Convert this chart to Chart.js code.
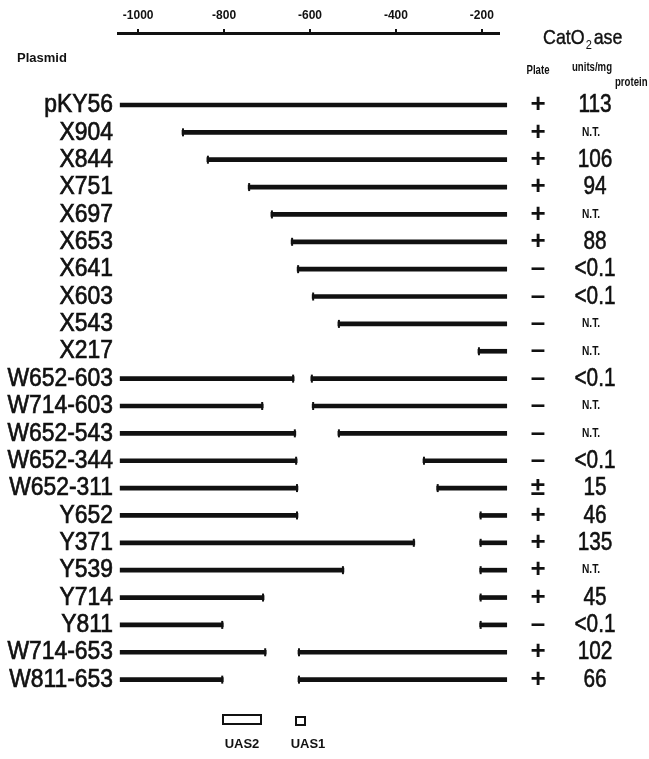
<!DOCTYPE html>
<html lang="en">
<head>
<meta charset="UTF-8">
<title>Deletion map</title>
<script src="https://cdn.jsdelivr.net/npm/chart.js@4.4.0/dist/chart.umd.min.js"></script>
<style>
    body { margin: 0; background: #fff; overflow: hidden; }
</style>
</head>
<body>
<canvas id="myChart" width="649" height="759"></canvas>
<script>
// rows of the map, top to bottom
const plasmids = ['pKY56', 'X904', 'X844', 'X751', 'X697', 'X653', 'X641', 'X603', 'X543', 'X217',
    'W652-603', 'W714-603', 'W652-543', 'W652-344', 'W652-311',
    'Y652', 'Y371', 'Y539', 'Y714', 'Y811', 'W714-653', 'W811-653'];

const tickValues = [-1000, -800, -600, -400, -200];
const mapStart = -1042;   // left end of the fragment
const mapEnd = -142;      // right end of the fragment

// upstream piece (kept 5' part) - null when absent
const upStart = [null, null, null, null, null, null, null, null, null, null,
    -1042, -1042, -1042, -1042, -1042, -1042, -1042, -1042, -1042, -1042, -1042, -1042];
const upEnd = [null, null, null, null, null, null, null, null, null, null,
    -637, -709, -633, -630, -628, -628, -356, -521, -707, -802, -702, -802];

// downstream piece
const downStart = [-1042, -898, -840, -744, -691, -644, -630, -595, -535, -209,
    -598, -595, -535, -337, -305, -205, -205, -205, -205, -205, -628, -628];
const downEnd = plasmids.map(() => mapEnd);

// CatO2ase columns
const plate = ['+', '+', '+', '+', '+', '+', '\u2013', '\u2013', '\u2013', '\u2013',
    '\u2013', '\u2013', '\u2013', '\u2013', '\u00b1', '+', '+', '+', '+', '\u2013', '+', '+'];
const units = ['113', 'N.T.', '106', '94', 'N.T.', '88', '<0.1', '<0.1', 'N.T.', 'N.T.',
    '<0.1', 'N.T.', 'N.T.', '<0.1', '15', '46', '135', 'N.T.', '45', '<0.1', '102', '66'];

const ink = '#111111';
const plain = "'Liberation Sans', Arial, sans-serif";

function pieces(starts, ends) {
    const out = [];
    for (let i = 0; i < plasmids.length; i++) {
        if (starts[i] === null) continue;
        out.push({ y: i, x: [starts[i], ends[i]] });
    }
    return out;
}

// squeezed text, the figure uses a condensed face
function narrowText(ctx, text, x, y, opts) {
    const sx = opts.sx || 0.86;
    ctx.save();
    ctx.font = (opts.bold ? 'bold ' : '') + opts.size + 'px ' + plain;
    ctx.textAlign = opts.align || 'left';
    ctx.textBaseline = 'middle';
    ctx.translate(x, y);
    ctx.scale(sx, 1);
    ctx.fillText(text, 0, 0);
    if (opts.heavy) {
        ctx.lineWidth = opts.heavy;
        ctx.strokeStyle = ink;
        ctx.strokeText(text, 0, 0);
    }
    const w = ctx.measureText(text).width * sx;
    ctx.restore();
    return w;
}

// small vertical stops at the cut ends
const capsPlugin = {
    id: 'caps',
    afterDatasetsDraw(chart) {
        const ctx = chart.ctx;
        ctx.save();
        ctx.strokeStyle = ink;
        ctx.lineWidth = 2;
        chart.data.datasets.forEach((ds, di) => {
            const meta = chart.getDatasetMeta(di);
            meta.data.forEach((bar, j) => {
                const v = ds.data[j].x;
                const left = Math.min(bar.x, bar.base);
                const right = Math.max(bar.x, bar.base);
                const marks = [];
                if (v[0] !== mapStart) marks.push(left + 1);
                if (v[1] !== mapEnd) marks.push(right - 1);
                marks.forEach(px => {
                    ctx.beginPath();
                    ctx.moveTo(px, bar.y - 4);
                    ctx.lineTo(px, bar.y + 4);
                    ctx.stroke();
                });
            });
        });
        ctx.restore();
    }
};

const textPlugin = {
    id: 'texts',
    afterDraw(chart) {
        const ctx = chart.ctx;
        const y = chart.scales.y;
        ctx.save();
        ctx.fillStyle = ink;

        // headers
        ctx.textBaseline = 'middle';
        ctx.textAlign = 'left';
        ctx.font = 'bold 13px ' + plain;
        ctx.fillText('Plasmid', 17, 58);

        let w = narrowText(ctx, 'CatO', 543, 38, { size: 21, sx: 0.85, heavy: 0.4 });
        narrowText(ctx, '2', 543 + w + 1, 45, { size: 13, sx: 0.85 });
        narrowText(ctx, 'ase', 543 + w + 9, 38, { size: 21, sx: 0.85, heavy: 0.4 });

        narrowText(ctx, 'Plate', 538, 71, { size: 12, bold: true, sx: 0.8, align: 'center' });
        narrowText(ctx, 'units/mg', 572, 68, { size: 12, bold: true, sx: 0.8 });
        narrowText(ctx, 'protein', 615, 83, { size: 12, bold: true, sx: 0.8 });

        plasmids.forEach((p, i) => {
            const py = y.getPixelForValue(i);
            // plasmid name on the left
            narrowText(ctx, p, 113, py, { size: 26, sx: 0.88, align: 'right', heavy: 0.7 });
            // plate test
            ctx.textAlign = 'center';
            ctx.textBaseline = 'middle';
            ctx.font = 'bold 26px ' + plain;
            ctx.fillText(plate[i], 538, py);
            // activity
            if (units[i] === 'N.T.') {
                narrowText(ctx, units[i], 591, py, { size: 12, bold: true, sx: 0.85, align: 'center' });
            } else {
                narrowText(ctx, units[i], 595, py, { size: 26, sx: 0.8, align: 'center', heavy: 0.6 });
            }
        });

        // UAS key
        ctx.strokeStyle = ink;
        ctx.lineWidth = 2;
        ctx.strokeRect(223, 715, 38, 9);
        ctx.strokeRect(296, 717, 9, 8);
        ctx.font = 'bold 13px ' + plain;
        ctx.textAlign = 'center';
        ctx.fillText('UAS2', 242, 744);
        ctx.fillText('UAS1', 308, 744);
        ctx.restore();
    }
};

new Chart(document.getElementById('myChart'), {
    type: 'bar',
    data: {
        datasets: [
            { data: pieces(upStart, upEnd), backgroundColor: ink, grouped: false, barThickness: 4, clip: false },
            { data: pieces(downStart, downEnd), backgroundColor: ink, grouped: false, barThickness: 4, clip: false }
        ]
    },
    options: {
        indexAxis: 'y',
        responsive: false,
        animation: false,
        layout: { padding: { left: 0, right: 150, top: 0, bottom: 0 } },
        plugins: { legend: { display: false }, tooltip: { enabled: false } },
        scales: {
            x: {
                type: 'linear',
                position: 'top',
                min: -1047,
                max: -160,
                afterBuildTicks: (s) => { s.ticks = tickValues.map(v => ({ value: v })); },
                afterFit: (s) => { s.height = 33; },
                grid: { drawOnChartArea: false, drawTicks: true, tickLength: 4, color: ink, lineWidth: 2 },
                border: { display: true, color: ink, width: 3 },
                ticks: {
                    color: ink,
                    padding: 6,
                    font: { family: plain, weight: 'bold', size: 12 },
                    callback: (v) => String(v)
                }
            },
            y: {
                type: 'linear',
                reverse: true,
                offset: false,
                min: -2.63,
                max: 23.9,
                afterBuildTicks: (s) => { s.ticks = plasmids.map((p, i) => ({ value: i })); },
                afterFit: (s) => { s.width = 118; },
                grid: { display: false, drawTicks: false },
                border: { display: false },
                ticks: { display: false }
            }
        }
    },
    plugins: [capsPlugin, textPlugin]
});
</script>
</body>
</html>
